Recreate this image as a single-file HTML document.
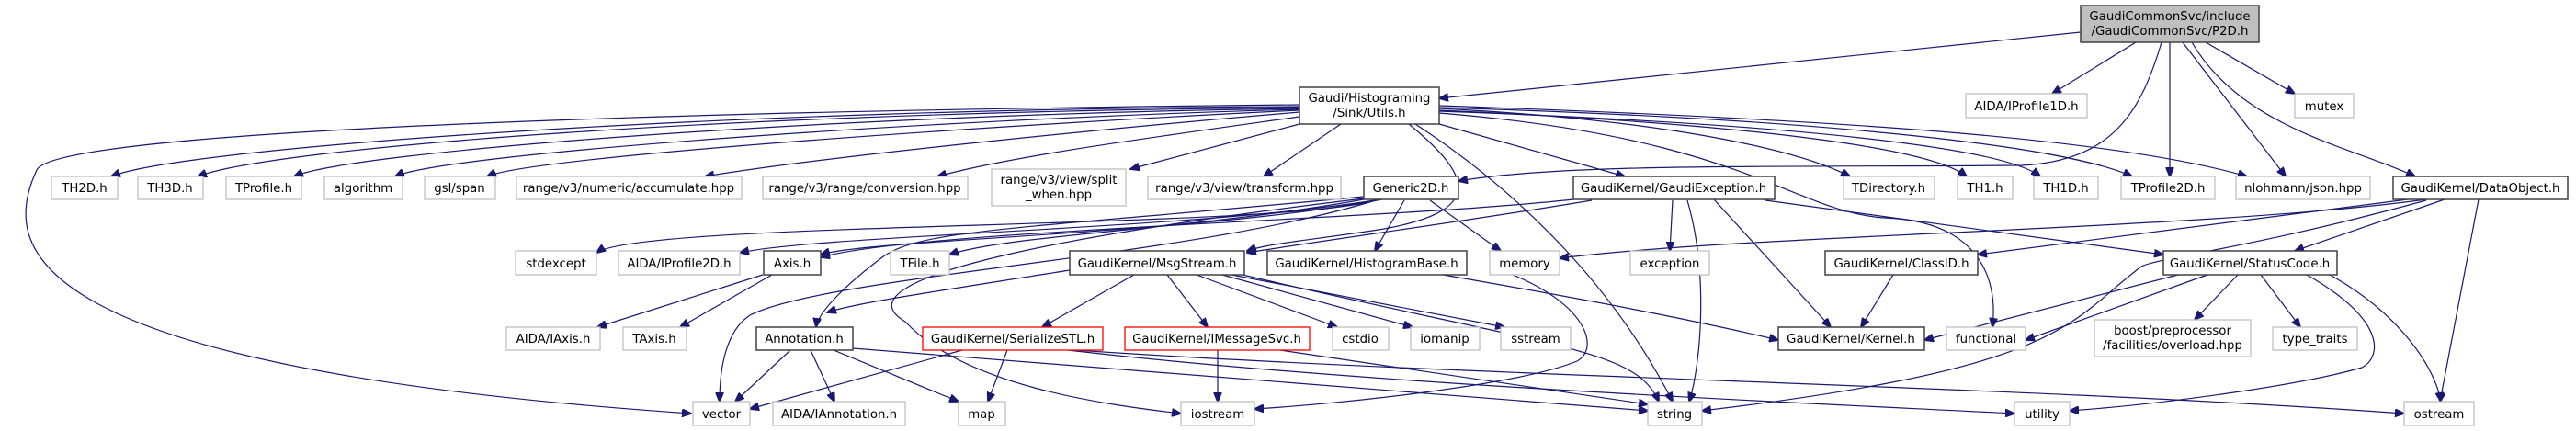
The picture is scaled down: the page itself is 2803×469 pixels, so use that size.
<!DOCTYPE html>
<html><head><meta charset="utf-8"><style>
html,body{margin:0;padding:0;background:#fff;}
svg{display:block}
text{font-family:"DejaVu Sans","Liberation Sans",sans-serif;font-size:13.3px;fill:#000;text-anchor:middle}
.e{fill:none;stroke:#191970;stroke-width:1.2}
.g{fill:#fff;stroke:#bfbfbf;stroke-width:1.3}
.b{fill:#fff;stroke:#404040;stroke-width:1.5}
.r{fill:#fff;stroke:#ff0000;stroke-width:1.3}
</style></head><body>
<svg width="2803" height="469" viewBox="0 0 2803 469" xmlns="http://www.w3.org/2000/svg">
<defs><marker id="a" markerUnits="userSpaceOnUse" markerWidth="11" markerHeight="9" refX="10" refY="4.5" orient="auto"><path d="M0,0 L11,4.5 L0,9 z" fill="#191970" stroke="#191970"/></marker></defs>
<g class="e" marker-end="url(#a)">
<!-- P2D -->
<path d="M2264,35 L1566,107"/>
<path d="M2324,46 L2233,102"/>
<path d="M2400,46 L2497,102"/>
<path d="M2352,46 C2330,120 2300,175 2200,180 C1900,182 1700,178 1587,197"/>
<path d="M2361,46 L2361,192"/>
<path d="M2375,46 L2487,192"/>
<path d="M2385,46 C2440,140 2560,160 2628,192"/>
<!-- Utils -->
<path d="M1414,116 C800,118 200,160 121,192"/>
<path d="M1414,117 C800,122 300,160 215,192"/>
<path d="M1414,118 C900,125 380,165 320,192"/>
<path d="M1414,119 C1000,130 480,168 430,192"/>
<path d="M1414,120 C1100,135 580,170 530,192"/>
<path d="M1414,122 C1200,140 900,170 767,192"/>
<path d="M1414,127 C1250,150 1100,170 1020,192"/>
<path d="M1414,135 L1230,184"/>
<path d="M1459,135 L1375,192"/>
<path d="M1566,135 L1768,192"/>
<path d="M1566,118 C1800,130 1950,160 2013,192"/>
<path d="M1566,120 C1900,135 2100,160 2140,192"/>
<path d="M1566,121 C1950,135 2180,160 2220,192"/>
<path d="M1566,117 C2000,130 2250,160 2320,192"/>
<path d="M1566,115 C2000,130 2300,150 2445,192"/>
<path d="M1540,135 C1640,200 1750,300 1820,437"/>
<path d="M1414,114 C800,120 60,140 40,185 C0,270 20,400 752,450"/>
<path d="M1533,135 C1600,190 1620,230 1500,250 C1420,262 1380,265 1357,273"/>
<path d="M1566,123 C1900,150 1950,230 2050,237 C2150,240 2175,300 2168,356"/>
<!-- Generic2D -->
<path d="M1500,217 C1400,250 700,240 649,275"/>
<path d="M1502,217 C1300,250 900,255 805,275"/>
<path d="M1504,217 C1300,255 950,260 893,277"/>
<path d="M1484,217 C1300,250 1100,255 1033,277"/>
<path d="M1484,214 C1100,250 1000,250 960,280 C920,310 890,340 888,356"/>
<path d="M1528,218 L1496,273"/>
<path d="M1556,218 L1633,273"/>
<path d="M1484,216 C1200,250 900,300 985,350 C1050,420 1200,440 1285,450"/>
<path d="M1500,217 C1300,280 900,300 816,343 C790,360 783,400 783,437"/>
<!-- GaudiException -->
<path d="M1732,218 C1600,240 1450,260 1357,275"/>
<path d="M1712,217 C1500,240 1000,250 893,280"/>
<path d="M1820,218 L1817,273"/>
<path d="M1836,218 C1860,300 1850,400 1838,437"/>
<path d="M1865,217 L1992,356"/>
<path d="M1921,218 L2354,277"/>
<!-- DataObject -->
<path d="M2640,217 C2400,250 1900,255 1697,281"/>
<path d="M2620,217 L2152,277"/>
<path d="M2660,217 L2497,273"/>
<path d="M2640,218 C2450,270 2350,280 2330,290 C2250,350 2250,400 1852,447"/>
<path d="M2697,217 L2655,437"/>
<!-- StatusCode -->
<path d="M2370,299 L2094,370"/>
<path d="M2402,299 L2204,370"/>
<path d="M2435,299 L2388,348"/>
<path d="M2460,299 L2503,356"/>
<path d="M2510,299 C2600,350 2590,390 2570,400 C2500,420 2350,440 2252,447"/>
<path d="M2535,299 C2610,340 2650,400 2656,437"/>
<path d="M2060,299 L2025,356"/>
<!-- MsgStream -->
<path d="M1234,299 L1134,356"/>
<path d="M1270,299 L1314,356"/>
<path d="M1302,299 L1455,356"/>
<path d="M1330,299 L1537,356"/>
<path d="M1340,299 L1637,356"/>
<path d="M1352,299 C1700,380 1780,380 1805,437"/>
<path d="M1164,294 C1000,320 930,330 900,340"/>
<!-- HistogramBase -->
<path d="M1570,299 C1750,330 1850,350 1935,370"/>
<path d="M1646,299 C1729,333 1740,380 1716,393 C1650,420 1450,440 1365,445"/>
<!-- Annotation -->
<path d="M860,381 L800,437"/>
<path d="M882,381 L908,437"/>
<path d="M907,381 L1043,437"/>
<path d="M928,379 L1793,447"/>
<!-- Axis -->
<path d="M830,299 L650,356"/>
<path d="M840,299 L740,356"/>
<!-- SerializeSTL -->
<path d="M1047,381 L816,445"/>
<path d="M1096,381 L1075,437"/>
<path d="M1162,381 C1500,420 2000,440 2192,450"/>
<path d="M1170,381 C1600,410 2200,420 2616,450"/>
<!-- IMessageSvc -->
<path d="M1325,381 L1325,437"/>
<path d="M1393,381 L1793,440"/>
</g>
<!-- nodes -->
<rect x="2264" y="6" width="194" height="40" fill="#bfbfbf" stroke="#404040" stroke-width="1.5"/>
<text x="2361" y="22">GaudiCommonSvc/include</text><text x="2361" y="38">/GaudiCommonSvc/P2D.h</text>
<rect class="b" x="1414" y="95" width="152" height="40"/>
<text x="1490" y="111">Gaudi/Histograming</text><text x="1490" y="127">/Sink/Utils.h</text>
<rect class="g" x="2139" y="102" width="132" height="26"/><text x="2205" y="120">AIDA/IProfile1D.h</text>
<rect class="g" x="2497" y="102" width="64" height="26"/><text x="2529" y="120">mutex</text>

<rect class="g" x="56" y="192" width="72" height="25"/><text x="92" y="209">TH2D.h</text>
<rect class="g" x="150" y="192" width="71" height="25"/><text x="185" y="209">TH3D.h</text>
<rect class="g" x="246" y="192" width="82" height="25"/><text x="287" y="209">TProfile.h</text>
<rect class="g" x="353" y="192" width="85" height="25"/><text x="395" y="209">algorithm</text>
<rect class="g" x="462" y="192" width="77" height="25"/><text x="500" y="209">gsl/span</text>
<rect class="g" x="562" y="192" width="245" height="25"/><text x="684" y="209">range/v3/numeric/accumulate.hpp</text>
<rect class="g" x="830" y="192" width="223" height="25"/><text x="941" y="209">range/v3/range/conversion.hpp</text>
<rect class="g" x="1079" y="184" width="146" height="40"/><text x="1152" y="200">range/v3/view/split</text><text x="1152" y="216">_when.hpp</text>
<rect class="g" x="1249" y="192" width="210" height="25"/><text x="1354" y="209">range/v3/view/transform.hpp</text>
<rect class="b" x="1484" y="192" width="103" height="25"/><text x="1535" y="209">Generic2D.h</text>
<rect class="b" x="1712" y="192" width="219" height="25"/><text x="1821" y="209">GaudiKernel/GaudiException.h</text>
<rect class="g" x="2006" y="192" width="99" height="25"/><text x="2055" y="209">TDirectory.h</text>
<rect class="g" x="2130" y="192" width="60" height="25"/><text x="2160" y="209">TH1.h</text>
<rect class="g" x="2213" y="192" width="70" height="25"/><text x="2248" y="209">TH1D.h</text>
<rect class="g" x="2308" y="192" width="102" height="25"/><text x="2359" y="209">TProfile2D.h</text>
<rect class="g" x="2433" y="192" width="146" height="25"/><text x="2506" y="209">nlohmann/json.hpp</text>
<rect class="b" x="2604" y="192" width="190" height="25"/><text x="2699" y="209">GaudiKernel/DataObject.h</text>

<rect class="g" x="561" y="273" width="88" height="26"/><text x="605" y="291">stdexcept</text>
<rect class="g" x="673" y="273" width="132" height="26"/><text x="739" y="291">AIDA/IProfile2D.h</text>
<rect class="b" x="831" y="273" width="62" height="26"/><text x="862" y="291">Axis.h</text>
<rect class="g" x="969" y="273" width="64" height="26"/><text x="1001" y="291">TFile.h</text>
<rect class="b" x="1164" y="273" width="190" height="26"/><text x="1259" y="291">GaudiKernel/MsgStream.h</text>
<rect class="b" x="1379" y="273" width="217" height="26"/><text x="1487" y="291">GaudiKernel/HistogramBase.h</text>
<rect class="g" x="1621" y="273" width="76" height="26"/><text x="1659" y="291">memory</text>
<rect class="g" x="1774" y="273" width="86" height="26"/><text x="1817" y="291">exception</text>
<rect class="b" x="1986" y="273" width="166" height="26"/><text x="2069" y="291">GaudiKernel/ClassID.h</text>
<rect class="b" x="2354" y="273" width="189" height="26"/><text x="2448" y="291">GaudiKernel/StatusCode.h</text>

<rect class="g" x="551" y="356" width="102" height="25"/><text x="602" y="373">AIDA/IAxis.h</text>
<rect class="g" x="678" y="356" width="69" height="25"/><text x="712" y="373">TAxis.h</text>
<rect class="b" x="823" y="356" width="105" height="25"/><text x="875" y="373">Annotation.h</text>
<rect class="r" x="1004" y="356" width="196" height="25"/><text x="1102" y="373">GaudiKernel/SerializeSTL.h</text>
<rect class="r" x="1224" y="356" width="201" height="25"/><text x="1324" y="373">GaudiKernel/IMessageSvc.h</text>
<rect class="g" x="1450" y="356" width="61" height="25"/><text x="1480" y="373">cstdio</text>
<rect class="g" x="1535" y="356" width="75" height="25"/><text x="1572" y="373">iomanip</text>
<rect class="g" x="1633" y="356" width="76" height="25"/><text x="1671" y="373">sstream</text>
<rect class="b" x="1935" y="356" width="159" height="25"/><text x="2014" y="373">GaudiKernel/Kernel.h</text>
<rect class="g" x="2118" y="356" width="86" height="25"/><text x="2161" y="373">functional</text>
<rect class="g" x="2279" y="348" width="170" height="40"/><text x="2364" y="364">boost/preprocessor</text><text x="2364" y="380">/facilities/overload.hpp</text>
<rect class="g" x="2473" y="356" width="92" height="25"/><text x="2519" y="373">type_traits</text>

<rect class="g" x="754" y="437" width="62" height="26"/><text x="785" y="455">vector</text>
<rect class="g" x="841" y="437" width="144" height="26"/><text x="913" y="455">AIDA/IAnnotation.h</text>
<rect class="g" x="1043" y="437" width="51" height="26"/><text x="1068" y="455">map</text>
<rect class="g" x="1285" y="437" width="80" height="26"/><text x="1325" y="455">iostream</text>
<rect class="g" x="1793" y="437" width="59" height="26"/><text x="1822" y="455">string</text>
<rect class="g" x="2192" y="437" width="60" height="26"/><text x="2222" y="455">utility</text>
<rect class="g" x="2616" y="437" width="76" height="26"/><text x="2654" y="455">ostream</text>
</svg>
</body></html>
